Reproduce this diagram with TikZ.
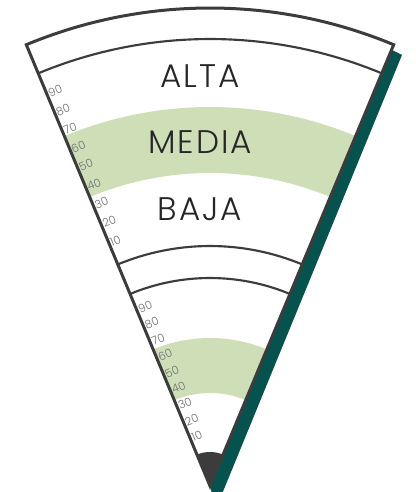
\documentclass[tikz,border=0pt]{standalone}
\usepackage{fontspec}
\setmainfont{Poppins}[UprightFont=* Light]
\usepackage{xcolor}
\definecolor{linegray}{HTML}{3C3C3C}
\definecolor{sage}{HTML}{CEDFB8}
\definecolor{deepteal}{HTML}{06524F}
\definecolor{tickgray}{HTML}{707070}

\begin{document}
\begin{tikzpicture}[x=0.75pt,y=0.75pt,
  edge/.style={linegray, line width=2.25pt, line join=miter},
  band/.style={linegray, line width=1.6pt},
  level/.style={font=\fontsize{24.5}{29}\selectfont\addfontfeatures{LetterSpace=6}, text=black!85},
  tick/.style={font=\fontsize{8.5}{9}\selectfont, text=tickgray, rotate=22.6, anchor=west, inner sep=0.6pt, xshift=0.6pt}]

\useasboundingbox (0,0) rectangle (416,492);

\node[coordinate] (v0) at (210,6) {};
\node[coordinate] (v1) at (390,443) {};
\node[coordinate] (v2) at (402,437) {};
\node[coordinate] (v3) at (222,-2) {};
\node[coordinate] (v4) at (212,-2) {};

\fill[deepteal] (v1) -- (v2) -- (v3) -- (v4) -- (v0) -- cycle;

\begin{scope}[shift={(v0)}]
\fill[white] (0,0) -- (112.6:478) arc[start angle=112.6, end angle=67.4, radius=478] -- cycle;

\fill[sage] (112.6:379) arc[start angle=112.6, end angle=67.4, radius=379] -- (67.4:313) arc[start angle=67.4, end angle=112.6, radius=313] -- cycle;
\fill[sage] (112.6:148) arc[start angle=112.6, end angle=67.4, radius=148] -- (67.4:93) arc[start angle=67.4, end angle=112.6, radius=93] -- cycle;

\fill[linegray] (0,0) -- (112.6:34) arc[start angle=112.6, end angle=67.4, radius=34] -- cycle;

\draw[band] (112.6:447) arc[start angle=112.6, end angle=67.4, radius=447];
\draw[band] (112.6:240) arc[start angle=112.6, end angle=67.4, radius=240];
\draw[band] (112.6:208) arc[start angle=112.6, end angle=67.4, radius=208];

\draw[edge] (0,0) -- (112.6:478) arc[start angle=112.6, end angle=67.4, radius=478] -- cycle;

\node[tick] (u90) at (112.6:424) {90};
\node[tick] (u80) at (112.6:404) {80};
\node[tick] (u70) at (112.6:384) {70};
\node[tick] (u60) at (112.6:364) {60};
\node[tick] (u50) at (112.6:344) {50};
\node[tick] (u40) at (112.6:323) {40};
\node[tick] (u30) at (112.6:303) {30};
\node[tick] (u20) at (112.6:283) {20};
\node[tick] (u10) at (112.6:263) {10};

\node[tick] (l90) at (112.6:190) {90};
\node[tick] (l80) at (112.6:173) {80};
\node[tick] (l70) at (112.6:155) {70};
\node[tick] (l60) at (112.6:138) {60};
\node[tick] (l50) at (112.6:120) {50};
\node[tick] (l40) at (112.6:103) {40};
\node[tick] (l30) at (112.6:86) {30};
\node[tick] (l20) at (112.6:68) {20};
\node[tick] (l10) at (112.6:51) {10};
\end{scope}

\node[level] (alta) at (200,416) {ALTA};
\node[level] (media) at (200,350) {MEDIA};
\node[level] (baja) at (200,283) {BAJA};

\end{tikzpicture}
\end{document}
